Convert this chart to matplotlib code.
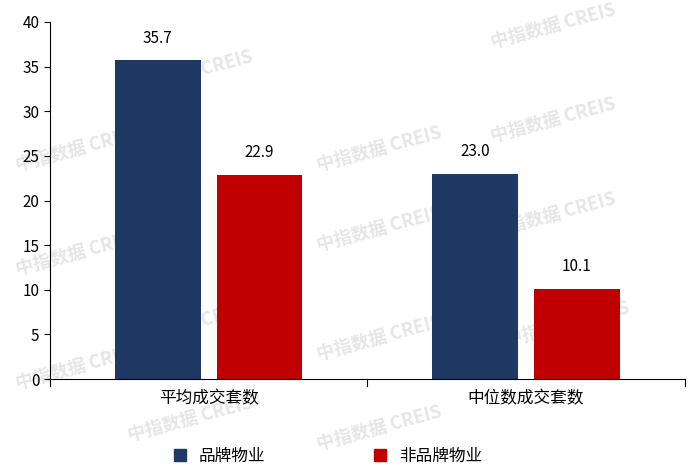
import matplotlib
matplotlib.use("Agg")
import matplotlib.pyplot as plt
from matplotlib.patches import Patch

plt.rcParams['font.family'] = ['Noto Sans CJK SC', 'DejaVu Sans']

categories = ["平均成交套数", "中位数成交套数"]
brand = [35.7, 23.0]
nonbrand = [22.9, 10.1]
series_names = ["品牌物业", "非品牌物业"]
yticks = [0, 5, 10, 15, 20, 25, 30, 35, 40]

fig = plt.figure(figsize=(6.98, 4.74), dpi=100)
ax = fig.add_axes([0.0716, 0.2004, 0.9094, 0.7532])
ax.set_facecolor("none")
c1, c2 = "#1F3864", "#C00000"
x = [0, 1]
w = 0.27
b1 = ax.bar([i - 0.16 for i in x], brand, w, color=c1, zorder=2)
b2 = ax.bar([i + 0.16 for i in x], nonbrand, w, color=c2, zorder=2)
for bars, vals in ((b1, brand), (b2, nonbrand)):
    for r, v in zip(bars, vals):
        ax.text(r.get_x() + r.get_width() / 2, v + 1.5, f"{v:.1f}", ha="center", va="bottom", fontsize=11)
ax.set_xlim(-0.5, 1.5)
ax.set_ylim(0, 40)
ax.set_yticks(yticks)
ax.set_xticks(x)
ax.set_xticklabels(categories, fontsize=12)
ax.tick_params(axis='x', length=0, pad=8)
ax.tick_params(axis='y', labelsize=11, length=4)
for xx in (-0.5, 0.5, 1.5):
    ax.plot([xx, xx], [0, -0.8], color="black", lw=0.8, clip_on=False)
for s in ("top", "right"):
    ax.spines[s].set_visible(False)

# watermarks
for (wx, wy) in [(0.18, 0.80), (0.70, 0.90), (0.45, 0.64), (0.70, 0.70), (0.02, 0.64), (0.45, 0.47),
                 (0.70, 0.50), (0.02, 0.42), (0.18, 0.27), (0.45, 0.24), (0.72, 0.27), (0.02, 0.18), (0.18, 0.07), (0.45, 0.05)]:
    fig.text(wx, wy, "中指数据 CREIS", fontsize=13, color="#e6e6e6", rotation=15, fontweight="bold", zorder=-5)

handles = [Patch(color=c1), Patch(color=c2)]
fig.legend(handles, series_names, loc="center", bbox_to_anchor=(0.47, 0.037), ncol=2, frameon=False,
           fontsize=12, handlelength=0.7, handleheight=0.7, columnspacing=6.5)
fig.savefig("out.png", dpi=100)
